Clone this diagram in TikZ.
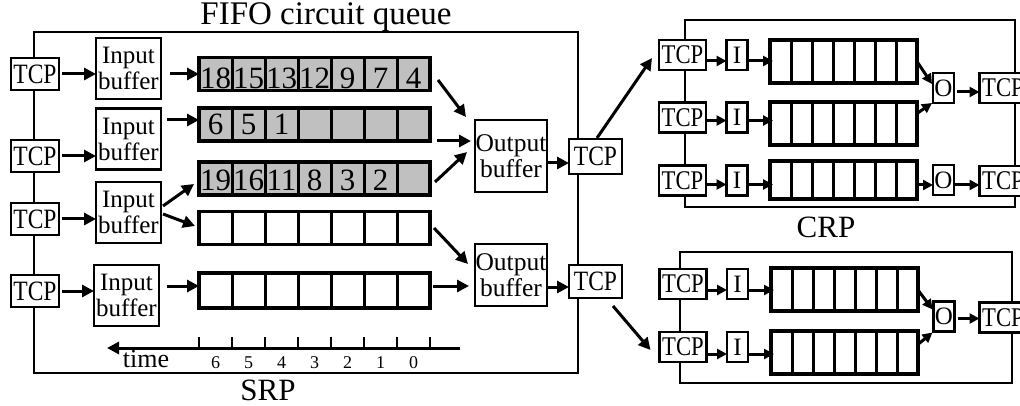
\documentclass[tikz,border=0pt]{standalone}
\usepackage{fontspec}
\setmainfont{Liberation Serif}
\usepackage{graphicx}
\usetikzlibrary{arrows.meta,fit,calc}
\newcommand\fsz[2]{\fontsize{#1}{#2}\selectfont}
\newcommand\squeeze[1]{\scalebox{0.84}[1]{#1}}
\definecolor{qgrey}{RGB}{192,192,192}

% one row of queue cells, plus a frame node (#1) around them
% #1 name, #2 x of left edge, #3 y of centre, #4 cell width, #5 height, #6 cells, #7 cell style
\newcommand\cellrow[7]{%
  \foreach \k in {1,...,#6}{%
    \node[#7, minimum width=#4pt, minimum height=#5pt] (#1-\k) at ({#2+(\k-0.5)*#4},#3) {};
  }%
  \node[qframe, fit=(#1-1)(#1-#6)] (#1) {};%
}

\begin{document}
\begin{tikzpicture}[x=1pt,y=-1pt, line join=miter,
  every node/.style={inner sep=0pt, outer sep=0pt},
  frame/.style={line width=2pt},
  box/.style={draw, line width=2.4pt, fill=white, align=center},
  tcpL/.style={box, minimum width=48pt, minimum height=32pt, font=\fsz{28}{28}},
  tcpR/.style={box, minimum width=47pt, minimum height=30pt, font=\fsz{27}{27}},
  inbuf/.style={box, minimum width=65pt, minimum height=61pt, font=\fsz{25}{26}},
  outbuf/.style={box, minimum width=72pt, font=\fsz{25.5}{26}},
  io/.style={box, minimum width=21pt, minimum height=30pt, font=\fsz{25}{25}},
  cellG/.style={draw, line width=3pt, fill=qgrey},
  cellW/.style={draw, line width=3pt, fill=white},
  qframe/.style={draw, line width=3.5pt},
  num/.style={font=\fsz{31}{31}, anchor=base},
  lab/.style={font=\fsz{33}{33}, anchor=base},
  arr/.style={line width=3pt, -{Triangle[length=12pt,width=12pt]}},
  arrs/.style={line width=3pt, -{Triangle[length=10pt,width=10pt]}},
]
\useasboundingbox (0,0) rectangle (1020,406);

% ---------- frames ----------
\draw[frame] (34,32) rectangle (578,373);
\draw[frame] (685,20) rectangle (1015,207);
\draw[frame] (680,252) rectangle (1012,383);

% ---------- labels ----------
\node[lab] (title) at (326,25) {FIFO circuit queue};
\node[lab, font=\fsz{31}{31}] (srp) at (268,400) {SRP};
\node[lab, font=\fsz{31}{31}] (crp) at (826,237) {CRP};

% ---------- SRP: input side ----------
\node[tcpL] (tcpA) at (35,74)  {\squeeze{TCP}};
\node[tcpL] (tcpB) at (35,156) {\squeeze{TCP}};
\node[tcpL] (tcpC) at (35,219) {\squeeze{TCP}};
\node[tcpL] (tcpD) at (35,291) {\squeeze{TCP}};

\node[inbuf] (ib1) at (128.5,68.5)  {Input\\buffer};
\node[inbuf] (ib2) at (128.5,139)   {Input\\buffer};
\node[inbuf] (ib3) at (128.5,212.5) {Input\\buffer};
\node[inbuf] (ib4) at (126.5,295.5) {Input\\buffer};

\foreach \a/\b in {tcpA/ib1, tcpB/ib2, tcpC/ib3, tcpD/ib4}
  \draw[arr] ($(\a.east)+(3,0)$) -- (\a.east -| \b.west);

% ---------- SRP: circuit queues ----------
\cellrow{q1}{199}{74}{33}{33}{7}{cellG}
\cellrow{q2}{199}{124.5}{33}{33}{7}{cellG}
\cellrow{q3}{199}{178.5}{33}{33}{7}{cellG}
\cellrow{q4}{199}{228}{33}{33}{7}{cellW}
\cellrow{q5}{199}{290.5}{33}{35}{7}{cellW}

\foreach \l [count=\k] in {18,15,13,12,9,7,4}
  \node[num] at ($(q1-\k.center)+(0,15)$) {\l};
\foreach \l [count=\k] in {6,5,1}
  \node[num] at ($(q2-\k.center)+(0,10.5)$) {\l};
\foreach \l [count=\k] in {19,16,11,8,3,2}
  \node[num] at ($(q3-\k.center)+(0,12)$) {\l};

\draw[arr] ($(ib1.east |- q1.west)+(9,0)$) -- (q1.west);
\draw[arr] ($(ib2.east |- q2.west)+(6,-4.5)$) -- ($(q2.west)+(0,-4.5)$);
\draw[arr] ($(ib3.east)+(2,-6.5)$) -- ($(q3.west)+(-5,5.5)$);
\draw[arr] ($(ib3.east)+(2,1.5)$) -- ($(q4.west)+(-4,-2)$);
\draw[arr] ($(ib4.east |- q5.west)+(8,-4.5)$) -- ($(q5.west)+(0,-4.5)$);

% ---------- SRP: output side ----------
\node[outbuf, minimum height=72pt] (ob1) at (511,156) {Output\\buffer};
\node[outbuf, minimum height=62pt] (ob2) at (511,275) {Output\\buffer};

\draw[arr] ($(q1.east)+(8,6)$) -- ($(ob1.north west)+(-9,-3)$);
\draw[arr] ($(q2.east)+(7,16.5)$) -- ($(ob1.west)+(-4,-15)$);
\draw[arr] ($(q3.east)+(5,3.5)$) -- ($(ob1.west)+(-8,-4)$);
\draw[arr] ($(q4.east)+(4,0)$) -- ($(ob2.west)+(-7,-11)$);
\draw[arr] ($(q5.east)+(3,-4.5)$) -- ($(ob2.west)+(-6,11)$);

\node[tcpL, minimum width=53pt, minimum height=35pt] (tcpE) at (595.5,156.5) {\squeeze{TCP}};
\node[tcpL, minimum width=53pt, minimum height=33pt] (tcpF) at (595.5,281.5) {\squeeze{TCP}};

\draw[arr] ($(ob1.east)+(1,7)$) -- ($(ob1.east -| tcpE.west)+(0,7)$);
\draw[arr] ($(ob2.east)+(1,12)$) -- ($(ob2.east -| tcpF.west)+(0,12)$);

% ---------- time axis ----------
\coordinate (tR) at (460,348);
\coordinate (tL) at (107,348);
\draw[arr] (tR) -- (tL);
\foreach \k in {0,...,7}
  \draw[line width=2.5pt] ({199+33*\k},348) -- ++(0,-11);
\foreach \l [count=\k] in {6,5,4,3,2,1,0}
  \node[font=\fsz{18}{18}, anchor=base] at ({182.5+33*\k},368) {\l};
\node[font=\fsz{26}{26}, anchor=base] (time) at (146,367) {time};

% ---------- CRP (upper) ----------
\foreach \r/\y in {1/55, 2/117.5, 3/180.5} {
  \node[tcpR] (c1t\r) at (682.5,\y) {\squeeze{TCP}};
  \node[io] (c1i\r) at (737,\y) {I};
}
\cellrow{c1q1}{770}{61.5}{21}{43}{7}{cellW}
\cellrow{c1q2}{770}{123.5}{21}{43}{7}{cellW}
\cellrow{c1q3}{770}{180}{21}{38}{7}{cellW}
\node[io] (c1o1) at (943.5,88) {O};
\node[io] (c1o2) at (943.5,180) {O};
\node[tcpR] (c1r1) at (1003,88)  {\squeeze{TCP}};
\node[tcpR] (c1r2) at (1003,181) {\squeeze{TCP}};

\foreach \r/\d in {1/6, 2/3, 3/4} {
  \draw[arrs] ($(c1t\r.east)+(0,\d)$) -- ($(c1i\r.west)+(0,\d)$);
  \draw[arrs] ($(c1i\r.east)+(0,\d)$) -- ($(c1i\r.east -| c1q\r.west)+(3,\d)$);
}
\draw[arrs] (c1q1.east) -- ($(c1o1.west)+(-1,-4)$);
\draw[arrs] ($(c1q2.east)+(0,-10)$) -- ($(c1o1.south west)+(-1,0)$);
\draw[arrs] ($(c1q3.east)+(0,5)$) -- ($(c1o2.west)+(0,5)$);
\draw[arrs] ($(c1o1.east)+(3,4)$) -- ($(c1o1.east -| c1r1.west)+(0,4)$);
\draw[arrs] ($(c1o2.east)+(0,5)$) -- ($(c1o2.east -| c1r2.west)+(0,5)$);

% ---------- CRP (lower) ----------
\foreach \r/\y in {1/284, 2/347} {
  \node[tcpR] (c2t\r) at (683,\y) {\squeeze{TCP}};
  \node[io] (c2i\r) at (737.5,\y) {I};
}
\cellrow{c2q1}{771}{289.5}{21}{43}{7}{cellW}
\cellrow{c2q2}{771}{352.5}{21}{43}{7}{cellW}
\node[io] (c2o) at (944,316.5) {O};
\node[tcpR] (c2r) at (1003,317.5) {\squeeze{TCP}};

\foreach \r/\d in {1/6, 2/7} {
  \draw[arrs] ($(c2t\r.east)+(0,\d)$) -- ($(c2i\r.west)+(0,\d)$);
  \draw[arrs] ($(c2i\r.east)+(0,\d)$) -- ($(c2i\r.east -| c2q\r.west)+(3,\d)$);
}
\draw[arrs] ($(c2q1.east)+(0,0.5)$) -- ($(c2o.west)+(-1,-7)$);
\draw[arrs] ($(c2q2.east)+(1,-9)$) -- ($(c2o.south west)+(-1,1)$);
\draw[arrs] ($(c2o.east)+(3,2)$) -- ($(c2o.east -| c2r.west)+(0,2)$);

% ---------- links between routers ----------
\draw[arr] ($(tcpE.north)+(1.5,-1)$) -- ($(c1t1.south west)+(-7,-12)$);
\draw[arr] ($(tcpF.south)+(17.5,8)$) -- ($(c2t2.west)+(-9,3)$);

\end{tikzpicture}
\end{document}
